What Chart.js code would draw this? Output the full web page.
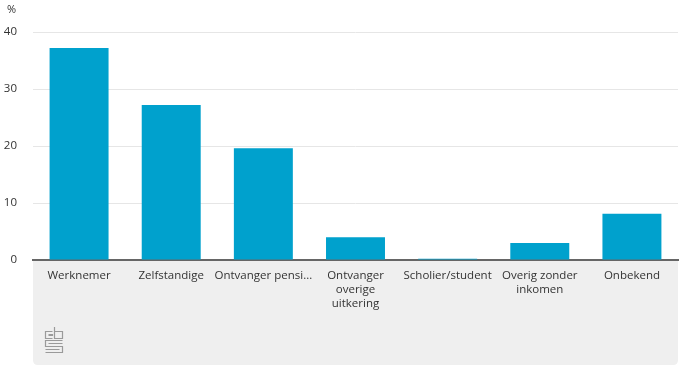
<!DOCTYPE html>
<html><head><meta charset="utf-8">
<script src="https://cdn.jsdelivr.net/npm/chart.js@4"></script>
<style>html,body{margin:0;padding:0;background:#fff;}#wrap{width:687px;height:373px;}</style>
</head><body><div id="wrap"><canvas id="c" width="687" height="373"></canvas></div>
<script>
const categories = ["Werknemer","Zelfstandige","Ontvanger pensioen",["Ontvanger","overige","uitkering"],"Scholier/student",["Overig zonder","inkomen"],"Onbekend"];
const values = [37.2, 27.2, 19.6, 4.0, 0.2, 3.0, 8.1];
const yTicks = [0,10,20,30,40];
const unitLabel = "%";

const FONT = "'Open Sans', sans-serif";
const bgPlugin = {
  id:'bg',
  beforeDraw(chart){
    const {ctx, chartArea:a} = chart;
    ctx.save();
    ctx.fillStyle = '#efefef';
    const x=a.left, y=a.bottom, w=a.right-a.left, h=365-a.bottom, r=5;
    ctx.beginPath();
    ctx.moveTo(x,y); ctx.lineTo(x+w,y); ctx.lineTo(x+w,y+h-r);
    ctx.quadraticCurveTo(x+w,y+h,x+w-r,y+h); ctx.lineTo(x+r,y+h);
    ctx.quadraticCurveTo(x,y+h,x,y+h-r); ctx.closePath(); ctx.fill();
    ctx.fillStyle='#333'; ctx.font = "11px "+FONT; ctx.textBaseline='middle';
    ctx.fillText(unitLabel, 7, 10);
    ctx.strokeStyle='#9a9a9a'; ctx.lineWidth=1.2;
    const lx=a.left+12, ly=327;
    ctx.beginPath();
    ctx.moveTo(lx+7.5, ly+4.5); ctx.lineTo(lx+0.5, ly+4.5); ctx.lineTo(lx+0.5, ly+11.5); ctx.lineTo(lx+7.5, ly+11.5);
    ctx.moveTo(lx+3.5, ly+7.5); ctx.lineTo(lx+7.5, ly+7.5); ctx.lineTo(lx+7.5, ly+8.5); ctx.lineTo(lx+3.5, ly+8.5);
    ctx.stroke();
    ctx.beginPath(); ctx.moveTo(lx+9.5, ly); ctx.lineTo(lx+9.5, ly+11.5); ctx.lineTo(lx+17.5, ly+11.5); ctx.lineTo(lx+17.5, ly+4.5); ctx.lineTo(lx+9.5,ly+4.5); ctx.stroke();
    ctx.beginPath();
    ctx.moveTo(lx+17.5, ly+13.5); ctx.lineTo(lx+0.5, ly+13.5); ctx.lineTo(lx+0.5, ly+19.5); ctx.lineTo(lx+17.5, ly+19.5); ctx.lineTo(lx+17.5, ly+25.5); ctx.lineTo(lx+0.5, ly+25.5);
    ctx.moveTo(lx+3.5, ly+16.5); ctx.lineTo(lx+17.5, ly+16.5);
    ctx.moveTo(lx+0.5, ly+22.5); ctx.lineTo(lx+14.5, ly+22.5);
    ctx.stroke();
    ctx.restore();
  }
};

new Chart(document.getElementById('c'), {
  type:'bar',
  data:{labels:categories, datasets:[{data:values, backgroundColor:'#00a1cd', categoryPercentage:1, barPercentage:0.64}]},
  plugins:[bgPlugin],
  options:{
    responsive:false, animation:false,
    layout:{padding:{top:32,right:9,left:0,bottom:8}},
    plugins:{legend:{display:false}, tooltip:{enabled:false}},
    scales:{
      x:{
        grid:{display:false},
        border:{color:'#666', width:2},
        ticks:{color:'#333', font:{family:FONT,size:11.5}, maxRotation:0, autoSkip:false, padding:1,
          callback(v){ const l=this.getLabelForValue(v); return (typeof l==='string' && l.length>16)? l.slice(0,15)+'...' : l; }},
        afterFit(s){ s.height = 105; }
      },
      y:{
        min:0,max:40,
        afterBuildTicks(s){ s.ticks = yTicks.map(v=>({value:v})); },
        grid:{color:'#e6e6e6', drawTicks:false},
        border:{display:false},
        ticks:{color:'#333', font:{family:FONT,size:11.5}, padding:16},
        afterFit(s){ s.width = 33; }
      }
    }
  }
});
</script></body></html>
